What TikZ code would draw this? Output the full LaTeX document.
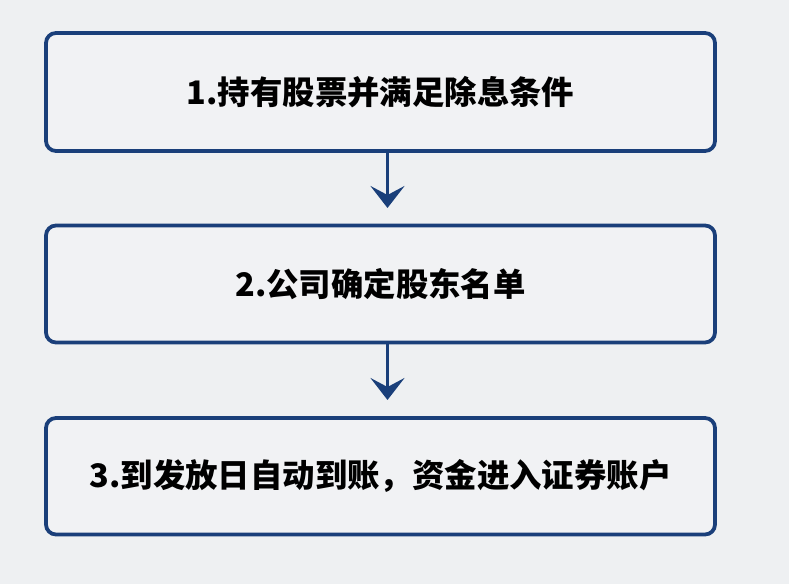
\documentclass[tikz,border=0pt]{standalone}
\usepackage{fontspec}
\setmainfont{Noto Sans CJK SC}
\usetikzlibrary{arrows.meta}
\definecolor{bgc}{HTML}{EEF0F2}
\definecolor{navy}{HTML}{1A3F7A}
\definecolor{boxfill}{HTML}{F1F2F4}
\tikzset{
  stepbox/.style={draw=navy, line width=3.8pt, rounded corners=10pt, fill=boxfill,
    minimum width=669pt, inner sep=0pt, outer sep=0pt,
    font=\fontsize{32.4}{38}\selectfont\bfseries, text=black},
  arr/.style={draw=navy, line width=3pt,
    -{Stealth[length=22pt, width=34pt, inset=9pt]}}
}
\begin{document}
\begin{tikzpicture}[x=1pt,y=1pt]
\fill[bgc] (0,0) rectangle (789,584);
\useasboundingbox (0,0) rectangle (789,584);
\node[stepbox, minimum height=118pt] (b1) at (380.5,492) {1.持有股票并满足除息条件};
\node[stepbox, minimum height=117pt] (b2) at (380.5,300) {2.公司确定股东名单};
\node[stepbox, minimum height=116.5pt] (b3) at (380.5,107.75) {3.到发放日自动到账，资金进入证券账户};
\coordinate (ax) at (387.5,0);
\coordinate (e1) at (387.5,376);
\coordinate (e2) at (387.5,184);
\draw[arr] (b1.south -| ax) -- (e1);
\draw[arr] (b2.south -| ax) -- (e2);
\end{tikzpicture}
\end{document}
